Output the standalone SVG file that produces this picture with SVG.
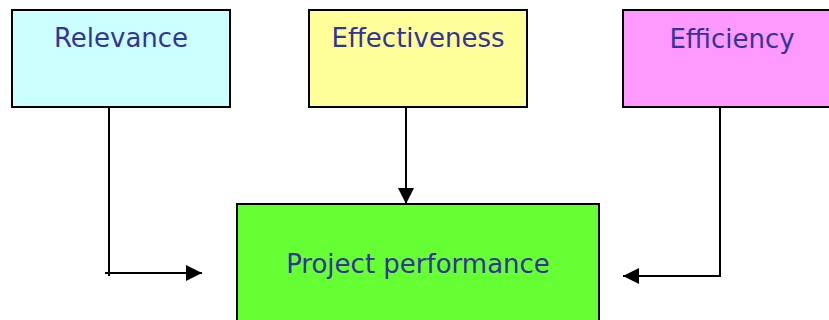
<svg xmlns="http://www.w3.org/2000/svg" width="829" height="320" viewBox="0 0 829 320">
<style>
.box{stroke:#000;stroke-width:2}
.lbl{font-family:"DejaVu Sans",Verdana,sans-serif;font-size:26px;fill:#333399;text-anchor:middle}
.con{stroke:#000;stroke-width:2;fill:none}
</style>
<defs>
<marker id="ahb" viewBox="0 0 16 16" refX="16" refY="8" markerWidth="16" markerHeight="16" orient="auto" markerUnits="userSpaceOnUse">
<path d="M0,0 L16,8 L0,16 Z" fill="#000"/>
</marker>
</defs>
<rect width="829" height="320" fill="#fff"/>
<g id="relevance">
<rect class="box" x="12" y="10" width="218" height="97" fill="#CCFFFF"/>
<text class="lbl" x="121" y="47">Relevance</text>
</g>
<g id="effectiveness">
<rect class="box" x="309" y="10" width="218" height="97" fill="#FFFF99"/>
<text class="lbl" x="418" y="47">Effectiveness</text>
</g>
<g id="efficiency">
<rect class="box" x="623" y="10" width="218" height="97" fill="#FF99FF"/>
<text class="lbl" x="732" y="48">Efficiency</text>
</g>
<g id="project">
<rect class="box" x="237" y="204" width="362" height="130" fill="#66FF33"/>
<text class="lbl" x="418" y="273">Project performance</text>
</g>
<g id="connectors">
<path class="con" d="M109,107 L109,276"/>
<path class="con" d="M105,273 L202,273" marker-end="url(#ahb)"/>
<path class="con" d="M406,107 L406,204" marker-end="url(#ahb)"/>
<path class="con" d="M720,107 L720,276 L623,276" marker-end="url(#ahb)"/>
</g>
</svg>
